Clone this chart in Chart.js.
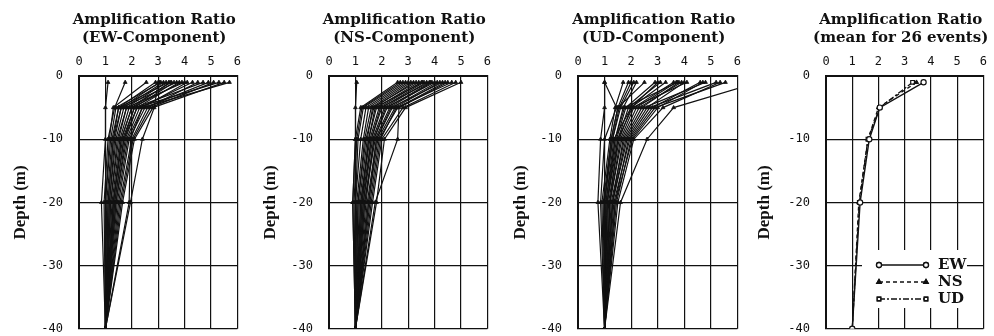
<!DOCTYPE html>
<html>
<head>
<meta charset="utf-8">
<script src="https://cdn.jsdelivr.net/npm/chart.js@4.4.0/dist/chart.umd.min.js"></script>
<style>
  body { margin: 0; background: #fff; width: 994px; height: 336px; overflow: hidden; position: relative; }
  canvas { position: absolute; top: 0; }
</style>
</head>
<body>
<canvas id="ew" width="248" height="352" style="left:0px"></canvas>
<canvas id="ns" width="248" height="352" style="left:250px"></canvas>
<canvas id="ud" width="248" height="352" style="left:500px"></canvas>
<canvas id="mean" width="250" height="352" style="left:744px"></canvas>
<script>
// depths of the observation points (m)
const depths = [-1, -5, -10, -20, -40];
const ratioTicks = [0, 1, 2, 3, 4, 5, 6];
const depthTicks = [0, -10, -20, -30, -40];

// one row per event: ratio at depths -1, -5, -10, -20, -40
const ewEvents = [
  [1.1, 1.0, 1.0, 0.85, 1.0],
  [1.75, 1.35, 1.1, 0.95, 1.0],
  [2.55, 1.3, 1.15, 1.0, 1.0],
  [2.9, 1.5, 1.25, 1.05, 1.0],
  [3.0, 2.85, 2.4, 1.95, 1.0],
  [3.05, 1.6, 1.3, 1.1, 1.0],
  [3.1, 1.4, 1.2, 1.0, 1.0],
  [3.2, 1.7, 1.4, 1.15, 1.0],
  [3.3, 1.8, 1.5, 1.2, 1.0],
  [3.4, 1.5, 1.3, 1.1, 1.0],
  [3.45, 2.0, 1.6, 1.3, 1.0],
  [3.5, 1.9, 1.55, 1.25, 1.0],
  [3.6, 2.1, 1.7, 1.35, 1.0],
  [3.7, 1.6, 1.35, 1.15, 1.0],
  [3.8, 2.2, 1.75, 1.4, 1.0],
  [3.9, 2.0, 1.6, 1.3, 1.0],
  [4.0, 1.8, 1.45, 1.2, 1.0],
  [4.1, 2.4, 1.85, 1.45, 1.0],
  [4.3, 2.3, 1.8, 1.4, 1.0],
  [4.5, 2.6, 2.0, 1.55, 1.0],
  [4.7, 2.1, 1.65, 1.3, 1.0],
  [4.9, 2.5, 1.9, 1.5, 1.0],
  [5.1, 2.7, 2.05, 1.6, 1.0],
  [5.3, 2.2, 1.7, 1.35, 1.0],
  [5.5, 2.8, 2.1, 1.65, 1.0],
  [5.7, 2.4, 1.95, 1.9, 1.0]
];

const nsEvents = [
  [1.05, 1.0, 1.0, 0.9, 1.0],
  [2.6, 1.2, 1.0, 0.9, 1.0],
  [2.7, 1.25, 1.05, 0.95, 1.0],
  [2.8, 1.3, 1.1, 1.0, 1.0],
  [2.9, 1.4, 1.2, 1.0, 1.0],
  [3.0, 1.5, 1.3, 1.05, 1.0],
  [3.1, 1.6, 1.35, 1.1, 1.0],
  [3.2, 1.7, 1.4, 1.1, 1.0],
  [3.3, 1.65, 1.45, 1.15, 1.0],
  [3.4, 1.8, 1.5, 1.2, 1.0],
  [3.5, 1.9, 1.55, 1.2, 1.0],
  [3.55, 1.75, 1.5, 1.25, 1.0],
  [3.6, 2.0, 1.6, 1.25, 1.0],
  [3.7, 2.1, 1.65, 1.3, 1.0],
  [3.8, 1.95, 1.6, 1.3, 1.0],
  [3.85, 2.2, 1.7, 1.35, 1.0],
  [3.9, 2.3, 1.75, 1.35, 1.0],
  [4.0, 2.15, 1.7, 1.4, 1.0],
  [4.1, 2.4, 1.8, 1.45, 1.0],
  [4.2, 2.5, 1.85, 1.5, 1.0],
  [4.3, 2.35, 1.8, 1.5, 1.0],
  [4.4, 2.6, 1.9, 1.55, 1.0],
  [4.5, 2.65, 2.6, 1.75, 1.0],
  [4.65, 2.55, 1.95, 1.6, 1.0],
  [4.8, 2.8, 2.0, 1.65, 1.0],
  [5.0, 2.9, 2.1, 1.8, 1.0]
];

const udEvents = [
  [1.0, 1.0, 0.85, 0.75, 1.0],
  [1.0, 1.45, 1.0, 0.85, 1.0],
  [1.7, 1.4, 1.2, 0.9, 1.0],
  [1.9, 1.5, 1.25, 0.95, 1.0],
  [2.0, 1.55, 1.3, 1.0, 1.0],
  [2.1, 1.6, 1.3, 1.0, 1.0],
  [2.2, 1.7, 1.4, 1.05, 1.0],
  [2.5, 1.5, 1.25, 1.0, 1.0],
  [2.9, 1.8, 1.45, 1.1, 1.0],
  [3.0, 2.0, 1.35, 1.05, 1.0],
  [3.1, 1.9, 1.5, 1.1, 1.0],
  [3.3, 2.0, 1.55, 1.15, 1.0],
  [3.6, 2.1, 1.6, 1.2, 1.0],
  [3.7, 2.2, 1.65, 1.2, 1.0],
  [3.75, 1.75, 1.4, 1.1, 1.0],
  [3.8, 2.4, 1.75, 1.25, 1.0],
  [3.9, 2.3, 1.7, 1.3, 1.0],
  [4.0, 2.6, 1.85, 1.3, 1.0],
  [4.1, 2.05, 1.5, 1.2, 1.0],
  [4.6, 2.8, 1.95, 1.35, 1.0],
  [4.7, 3.0, 2.05, 1.4, 1.0],
  [4.8, 2.5, 1.8, 1.3, 1.0],
  [5.2, 2.7, 1.9, 1.4, 1.0],
  [5.35, 3.2, 2.1, 1.5, 1.0],
  [5.55, 2.9, 2.0, 1.45, 1.0],
  [6.8, 3.6, 2.6, 1.6, 1.0]
];

// mean for 26 events
const meanEW = [3.72, 2.05, 1.65, 1.3, 1.0];
const meanNS = [3.45, 2.0, 1.6, 1.25, 1.0];
const meanUD = [3.3, 2.05, 1.6, 1.27, 1.0];

const toPoints = (vals) => vals.map((v, i) => ({ x: v, y: depths[i] }));

const serif = "'DejaVu Serif', 'Liberation Serif', serif";
const libSerif = "'Liberation Serif', 'DejaVu Serif', serif";
const mono = "'DejaVu Sans Mono', 'Liberation Mono', monospace";

// two-line title centred over the plot area
const titlePlugin = {
  id: "twoLineTitle",
  afterDraw(chart, args, opts) {
    const ctx = chart.ctx;
    const a = chart.chartArea;
    const cx = (a.left + a.right) / 2 - 4;
    ctx.save();
    ctx.fillStyle = "#111";
    ctx.font = "bold 15px " + serif;
    ctx.textAlign = "center";
    ctx.textBaseline = "middle";
    ctx.fillText("Amplification Ratio", cx, 20);
    ctx.fillText(opts.sub, cx, 38);
    ctx.restore();
  },
};

// legend box inside the mean panel
const meanLegend = {
  id: "meanLegend",
  afterDatasetsDraw(chart) {
    const ctx = chart.ctx;
    const a = chart.chartArea;
    ctx.save();
    ctx.fillStyle = "#fff";
    ctx.fillRect(a.left + 36, 250, 105, 58);
    const items = [
      { label: "EW", dash: [], style: "circle", fill: "#fff", y: 265 },
      { label: "NS", dash: [4, 3], style: "triangle", fill: "#111", y: 282 },
      { label: "UD", dash: [6, 2, 2, 2], style: "rect", fill: "#fff", y: 299 },
    ];
    const x0 = a.left + 53, x1 = a.left + 100;
    items.forEach((it) => {
      ctx.strokeStyle = "#111";
      ctx.lineWidth = 1.3;
      ctx.setLineDash(it.dash);
      ctx.beginPath();
      ctx.moveTo(x0, it.y);
      ctx.lineTo(x1, it.y);
      ctx.stroke();
      ctx.setLineDash([]);
      [x0, x1].forEach((px) => {
        Chart.helpers.drawPoint(ctx, {
          pointStyle: it.style, radius: 2.5, rotation: 0, borderWidth: 1,
        }, px, it.y);
        ctx.fillStyle = it.fill;
        ctx.fill();
        ctx.stroke();
      });
      ctx.fillStyle = "#111";
      ctx.font = "bold 15px " + serif;
      ctx.textAlign = "left";
      ctx.textBaseline = "middle";
      ctx.fillText(it.label, a.left + 112, it.y);
    });
    ctx.restore();
  },
};

function makeScales(yWidth) {
  return {
    x: {
      type: "linear",
      position: "top",
      min: 0,
      max: 6,
      afterBuildTicks: (s) => { s.ticks = ratioTicks.map((v) => ({ value: v })); },
      afterFit: (s) => { s.height = 76; },
      ticks: { color: "#111", font: { family: mono, size: 12 }, padding: 7 },
      grid: { color: "#111", lineWidth: 1.2, drawTicks: false },
      border: { color: "#111", width: 2 },
    },
    y: {
      type: "linear",
      min: -40,
      max: 0,
      afterBuildTicks: (s) => { s.ticks = depthTicks.map((v) => ({ value: v })); },
      afterFit: (s) => { s.width = yWidth; },
      ticks: { color: "#111", font: { family: mono, size: 12 }, padding: 16 },
      grid: { color: "#111", lineWidth: 1.2, drawTicks: false },
      border: { color: "#111", width: 2 },
      title: {
        display: true,
        text: "Depth (m)",
        color: "#111",
        font: { family: libSerif, size: 17, weight: "bold" },
        padding: { top: 0, bottom: 4 },
      },
    },
  };
}

function eventChart(id, events, sub, yWidth, padRight) {
  new Chart(document.getElementById(id), {
    type: "scatter",
    data: {
      datasets: events.map((ev) => ({
        data: toPoints(ev),
        showLine: true,
        borderColor: "#111",
        backgroundColor: "#111",
        borderWidth: 1.2,
        pointStyle: "triangle",
        pointRadius: 2.2,
        pointBorderWidth: 0.8,
      })),
    },
    options: {
      responsive: false,
      animation: false,
      layout: { padding: { left: 10, right: padRight, top: 0, bottom: 8 } },
      plugins: { legend: { display: false }, tooltip: { enabled: false }, twoLineTitle: { sub: sub } },
      scales: makeScales(yWidth),
    },
    plugins: [titlePlugin],
  });
}

eventChart("ew", ewEvents, "(EW-Component)", 69, 9);
eventChart("ns", nsEvents, "(NS-Component)", 69, 10);
eventChart("ud", udEvents, "(UD-Component)", 68, 10);

new Chart(document.getElementById("mean"), {
  type: "scatter",
  data: {
    datasets: [
      { label: "EW", data: toPoints(meanEW), showLine: true, borderColor: "#111", backgroundColor: "#fff",
        borderWidth: 1.4, pointStyle: "circle", pointRadius: 2.6, pointBorderWidth: 1.2 },
      { label: "NS", data: toPoints(meanNS), showLine: true, borderColor: "#111", backgroundColor: "#111",
        borderWidth: 1.3, borderDash: [4, 3], pointStyle: "triangle", pointRadius: 2.4, pointBorderWidth: 1 },
      { label: "UD", data: toPoints(meanUD), showLine: true, borderColor: "#111", backgroundColor: "#fff",
        borderWidth: 1.3, borderDash: [6, 2, 2, 2], pointStyle: "rect", pointRadius: 2.6, pointBorderWidth: 1.2 },
    ],
  },
  options: {
    responsive: false,
    animation: false,
    layout: { padding: { left: 10, right: 3, top: 0, bottom: 8 } },
    plugins: { legend: { display: false }, tooltip: { enabled: false }, twoLineTitle: { sub: "(mean for 26 events)" } },
    scales: makeScales(72),
  },
  plugins: [titlePlugin, meanLegend],
});
</script>
</body>
</html>
